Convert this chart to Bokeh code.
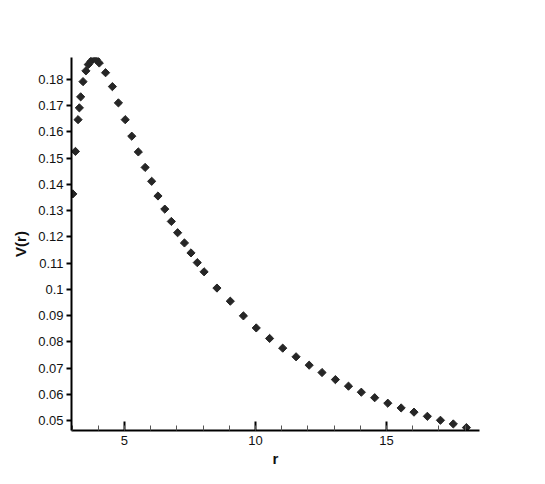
import numpy as np
from bokeh.plotting import figure
from bokeh.models import FixedTicker, NumeralTickFormatter, Range1d
from bokeh.embed import file_html
from bokeh.resources import INLINE

r_vals = [3.03, 3.13, 3.23, 3.28, 3.33, 3.42, 3.53, 3.62, 3.72, 3.82, 3.92, 4.04,
          4.28, 4.54, 4.77, 5.03, 5.28, 5.53, 5.79, 6.04, 6.28, 6.54, 6.79, 7.03,
          7.29, 7.54, 7.78, 8.04, 8.53, 9.04, 9.54, 10.03, 10.54, 11.04, 11.55,
          12.05, 12.54, 13.05, 13.55, 14.04, 14.55, 15.05, 15.56, 16.05, 16.56,
          17.06, 17.55, 18.05]
v_vals = [0.1364, 0.1526, 0.1647, 0.1692, 0.1734, 0.1792, 0.1833, 0.1857, 0.1869,
          0.1879, 0.1877, 0.1863, 0.1826, 0.1773, 0.1711, 0.1647, 0.1584, 0.1524,
          0.1465, 0.1412, 0.1356, 0.1306, 0.1259, 0.1216, 0.1177, 0.1139, 0.1102,
          0.1067, 0.1005, 0.0955, 0.0899, 0.0853, 0.0813, 0.0776, 0.0743, 0.0711,
          0.0683, 0.0656, 0.0631, 0.0608, 0.0587, 0.0566, 0.0548, 0.0532, 0.0516,
          0.0501, 0.0487, 0.0473]
x_major = [5, 10, 15]
x_minor = list(range(3, 19))
y_major = [0.05, 0.06, 0.07, 0.08, 0.09, 0.10, 0.11, 0.12, 0.13, 0.14, 0.15, 0.16, 0.17, 0.18]

FONT = "Liberation Sans"

p = figure(width=537, height=476, output_backend="svg", toolbar_location=None,
           x_range=Range1d(2.98, 18.55), y_range=Range1d(0.0462, 0.1884),
           min_border_left=71, min_border_right=58, min_border_top=57,
           min_border_bottom=46)
p.outline_line_color = None
p.xgrid.visible = False
p.ygrid.visible = False
p.background_fill_color = "white"
p.border_fill_color = "white"

p.scatter(r_vals, v_vals, marker="square", angle=np.pi / 4, size=5.8,
          fill_color="#262626", line_color="#262626", line_width=1)

xa = p.xaxis[0]
xa.ticker = FixedTicker(ticks=x_major, minor_ticks=x_minor)
xa.axis_label = "r"
xa.axis_line_width = 2
xa.major_tick_in = 9
xa.major_tick_out = 0
xa.minor_tick_in = 5
xa.minor_tick_out = 0
xa.major_tick_line_width = 2
xa.minor_tick_line_width = 1
xa.minor_tick_line_color = "#555555"
xa.major_label_text_font = FONT
xa.major_label_text_font_size = "13px"
xa.major_label_text_color = "#111111"
xa.major_label_standoff = 5
xa.axis_label_text_font = FONT
xa.axis_label_text_font_style = "bold"
xa.axis_label_text_font_size = "15px"
xa.axis_label_text_color = "#111111"
xa.axis_label_standoff = 2

ya = p.yaxis[0]
ya.ticker = FixedTicker(ticks=y_major, minor_ticks=[])
ya.formatter = NumeralTickFormatter(format="0.0[0]")
ya.axis_label = "V(r)"
ya.axis_line_width = 2
ya.major_tick_in = 0
ya.major_tick_out = 5
ya.major_tick_line_width = 2
ya.minor_tick_line_color = None
ya.major_label_text_font = FONT
ya.major_label_text_font_size = "13px"
ya.major_label_text_color = "#111111"
ya.major_label_standoff = 3
ya.axis_label_text_font = FONT
ya.axis_label_text_font_style = "bold"
ya.axis_label_text_font_size = "15px"
ya.axis_label_text_color = "#111111"
ya.axis_label_standoff = 6

open("out.html", "w").write(file_html(p, INLINE))
